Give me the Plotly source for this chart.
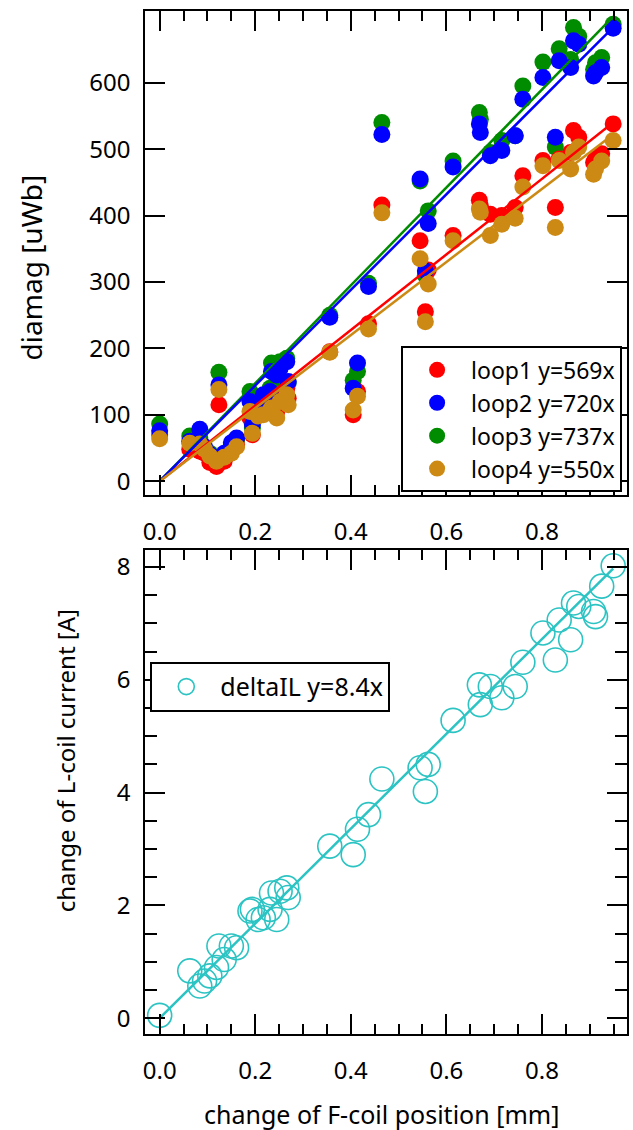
import plotly.graph_objects as go

# ---------------- data ----------------
x_pos = [0.000, 0.063, 0.084, 0.094, 0.105, 0.119, 0.124, 0.135, 0.150, 0.161,
         0.189, 0.194, 0.206, 0.217, 0.231, 0.234, 0.245, 0.252, 0.266, 0.269,
         0.356, 0.405, 0.414, 0.437, 0.465, 0.545, 0.556, 0.562, 0.614, 0.669,
         0.671, 0.692, 0.716, 0.744, 0.760, 0.802, 0.828, 0.836, 0.860, 0.866,
         0.877, 0.908, 0.912, 0.925, 0.949]

loop1 = [70, 48, 45, 42, 28, 22, 115, 30, 45, 55,
         95, 70, 100, 110, 120, 130, 105, 130, 140, 125,
         195, 100, 135, 237, 416, 362, 255, 318, 370, 423,
         415, 402, 400, 412, 460, 483, 412, 485, 495, 528,
         518, 480, 485, 493, 538]
loop2 = [76, 60, 78, 52, 40, 33, 145, 42, 58, 65,
         120, 85, 115, 130, 135, 165, 160, 170, 180, 150,
         247, 140, 178, 293, 522, 455, 317, 388, 473, 538,
         525, 490, 498, 520, 575, 608, 518, 633, 623, 663,
         658, 610, 615, 623, 682]
loop3 = [86, 68, 65, 50, 42, 35, 164, 40, 55, 62,
         135, 80, 110, 125, 140, 178, 155, 180, 185, 148,
         250, 152, 165, 298, 540, 452, 310, 407, 482, 555,
         545, 495, 513, 520, 595, 631, 503, 651, 635, 683,
         670, 620, 630, 638, 688]
loop4 = [64, 57, 56, 48, 38, 30, 138, 36, 42, 52,
         105, 72, 98, 100, 105, 110, 95, 120, 130, 115,
         194, 107, 128, 229, 404, 335, 240, 297, 362, 410,
         405, 370, 387, 396, 443, 475, 382, 483, 470, 495,
         503, 462, 470, 482, 513]
delta_il = [0.05, 0.84, 0.57, 0.66, 0.75, 0.90, 1.28, 1.04, 1.28, 1.25,
            1.90, 1.93, 1.75, 1.78, 1.93, 2.22, 1.75, 2.25, 2.31, 2.14,
            3.05, 2.90, 3.35, 3.61, 4.24, 4.44, 4.02, 4.50, 5.28, 5.91,
            5.56, 5.88, 5.68, 5.88, 6.31, 6.83, 6.35, 7.06, 6.71, 7.36,
            7.30, 7.21, 7.12, 7.66, 8.02]

loop_names = ["loop1", "loop2", "loop3", "loop4"]
loop_slopes = [569, 720, 737, 550]
delta_name = "deltaIL"
delta_slope = 8.4

x_ticks = [0.0, 0.2, 0.4, 0.6, 0.8]
top_y_ticks = [0, 100, 200, 300, 400, 500, 600]
bottom_y_ticks = [0, 2, 4, 6, 8]

# ---------------- style ----------------
FONT = "Noto Sans"
FS = 24
loop_colors = ["#ff0000", "#0000ff", "#008c00", "#cc8a14"]
cyan = "#2cc3c3"

fig = go.Figure()
loops = [loop1, loop2, loop3, loop4]
x_fit = [0.0, max(x_pos)]
draw_order = [2, 0, 1, 3]
for i in draw_order:
    fig.add_trace(go.Scatter(
        x=x_pos, y=loops[i], mode="markers",
        name=f"{loop_names[i]} y={loop_slopes[i]}x",
        marker=dict(color=loop_colors[i], size=17, line=dict(width=0)),
        legendrank=i + 1, legend="legend",
        xaxis="x", yaxis="y"))
for i in draw_order:
    fig.add_trace(go.Scatter(
        x=x_fit, y=[loop_slopes[i] * v for v in x_fit], mode="lines",
        line=dict(color=loop_colors[i], width=2.5), showlegend=False,
        xaxis="x", yaxis="y"))

fig.add_trace(go.Scatter(
    x=x_pos, y=delta_il, mode="markers",
    name=f"{delta_name} y={delta_slope}x",
    marker=dict(symbol="circle-open", color=cyan, size=24, line=dict(width=1.6, color=cyan)),
    legend="legend2", xaxis="x2", yaxis="y2"))
fig.add_trace(go.Scatter(
    x=x_fit, y=[delta_slope * v for v in x_fit], mode="lines",
    line=dict(color=cyan, width=2.5), showlegend=False,
    xaxis="x2", yaxis="y2"))

W, H = 633, 1130
xdom = [143 / W, 627 / W]
top_dom = [1 - 495 / H, 1 - 10 / H]
bot_dom = [1 - 1035 / H, 1 - 550 / H]
xr = [-0.03, 0.978]

common = dict(showline=True, linecolor="black", linewidth=2, mirror="allticks",
              ticks="inside", ticklen=20, tickwidth=2, tickcolor="black",
              showgrid=False, zeroline=False,
              tickfont=dict(family=FONT, size=FS, color="black"))

fig.update_layout(
    width=W, height=H, margin=dict(l=0, r=0, t=0, b=0),
    paper_bgcolor="white", plot_bgcolor="white",
    font=dict(family=FONT, size=FS, color="black"),
    xaxis=dict(domain=xdom, range=xr, anchor="y", tickmode="array", tickvals=x_ticks,
               ticktext=[f"{v:.1f}" for v in x_ticks], ticklabelstandoff=14,
               minor=dict(ticks="inside", ticklen=10, tickwidth=2, tickcolor="black",
                          tick0=0, dtick=0.05, showgrid=False), **common),
    yaxis=dict(domain=top_dom, range=[-21, 708], anchor="x", tickmode="array",
               tickvals=top_y_ticks, ticklabelstandoff=8, **common),
    xaxis2=dict(domain=xdom, range=xr, anchor="y2", tickmode="array", tickvals=x_ticks,
                ticktext=[f"{v:.1f}" for v in x_ticks], ticklabelstandoff=14,
                minor=dict(ticks="inside", ticklen=10, tickwidth=2, tickcolor="black",
                           tick0=0, dtick=0.05, showgrid=False), **common),
    yaxis2=dict(domain=bot_dom, range=[-0.283, 8.30], anchor="x2", tickmode="array",
                tickvals=bottom_y_ticks, ticklabelstandoff=8,
                minor=dict(ticks="inside", ticklen=12, tickwidth=2, tickcolor="black",
                           tick0=0, dtick=0.5, showgrid=False), **common),
    legend=dict(x=400 / W, y=1 - 346 / H, xanchor="left", yanchor="top",
                bordercolor="black", borderwidth=2, bgcolor="white",
                font=dict(family=FONT, size=23, color="black"), itemwidth=58,
                traceorder="normal"),
    legend2=dict(x=148 / W, y=1 - 662 / H, xanchor="left", yanchor="top",
                 bordercolor="black", borderwidth=2, bgcolor="white",
                 font=dict(family=FONT, size=25, color="black"), itemwidth=58),
    showlegend=True,
    annotations=[
        dict(text="diamag [uWb]", x=28 / W, y=1 - 267 / H, xref="paper", yref="paper",
             xanchor="center", yanchor="middle",
             textangle=-90, showarrow=False, font=dict(family=FONT, size=28, color="black")),
        dict(text="change of L-coil current [A]", x=63 / W, y=1 - 761 / H, xref="paper",
             yref="paper", xanchor="center", yanchor="middle", textangle=-90, showarrow=False,
             font=dict(family=FONT, size=24, color="black")),
        dict(text="change of F-coil position [mm]", x=380 / W, y=1 - 1115 / H, xref="paper",
             yref="paper", xanchor="center", yanchor="middle", showarrow=False,
             font=dict(family=FONT, size=25, color="black")),
    ],
)

fig.write_html("out.html")
